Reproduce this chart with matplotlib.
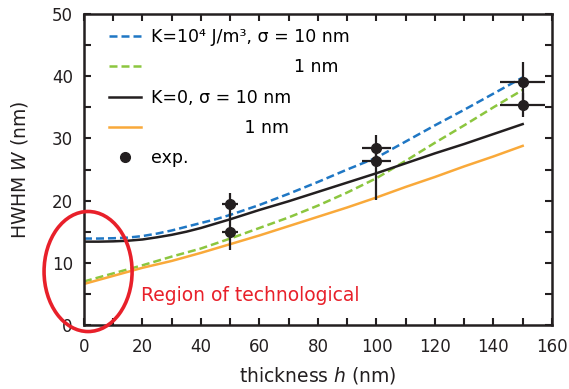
import matplotlib
matplotlib.use('Agg')
import matplotlib.pyplot as plt
from matplotlib.patches import Ellipse
from matplotlib.ticker import MultipleLocator

plt.rcParams['font.family'] = ['DejaVu Sans']
plt.rcParams['mathtext.fontset'] = 'custom'
plt.rcParams['mathtext.it'] = 'DejaVu Sans:italic'
plt.rcParams['mathtext.rm'] = 'DejaVu Sans'

# model curves, thickness h (nm) vs HWHM W (nm)
h = [0, 5, 10, 15, 20, 25, 30, 35, 40, 45, 50, 60, 70, 80, 90, 100, 110, 120, 130, 140, 150]
w_k4_s10 = [13.9, 13.9, 13.95, 14.05, 14.3, 14.7, 15.2, 15.8, 16.4, 17.0, 17.7,
            19.3, 21.1, 23.0, 25.0, 26.9, 29.5, 32.1, 34.6, 37.2, 39.8]
w_k4_s1 = [7.0, 7.65, 8.3, 8.95, 9.6, 10.3, 11.0, 11.65, 12.3, 13.1, 13.9,
           15.6, 17.3, 19.2, 21.3, 23.6, 26.4, 29.3, 32.1, 35.0, 37.8]
w_k0_s10 = [13.4, 13.4, 13.45, 13.55, 13.75, 14.1, 14.5, 15.0, 15.6, 16.3, 17.0,
            18.5, 19.9, 21.4, 22.9, 24.4, 26.0, 27.6, 29.1, 30.7, 32.3]
w_k0_s1 = [6.6, 7.25, 7.9, 8.55, 9.2, 9.75, 10.3, 10.95, 11.6, 12.3, 13.0,
           14.4, 15.9, 17.4, 18.9, 20.5, 22.2, 23.8, 25.5, 27.1, 28.8]

# experiment
exp_h = [50, 50, 100, 100, 150, 150]
exp_w = [19.4, 15.0, 28.4, 26.4, 39.1, 35.4]
exp_herr = [2.7, 2.7, 5.0, 5.0, 7.8, 7.8]
exp_werr_lo = [1.8, 3.0, 2.0, 6.3, 3.2, 1.9]
exp_werr_hi = [1.8, 3.0, 2.1, 2.0, 3.2, 1.9]

blue = '#1f77c4'
green = '#8cc63f'
black = '#231f20'
orange = '#f9a93a'
red = '#e8202a'

fig = plt.figure(figsize=(5.69, 3.89), dpi=100)
ax = fig.add_axes([0.1476, 0.1645, 0.8224, 0.7995])

ax.plot(h, w_k4_s10, color=blue, lw=1.8, dashes=(3.2, 1.6), label='K=10⁴ J/m³, σ = 10 nm')
ax.plot(h, w_k4_s1, color=green, lw=1.8, dashes=(3.2, 1.6),
        label='                          1 nm')
ax.plot(h, w_k0_s10, color=black, lw=1.8, label='K=0, σ = 10 nm')
ax.plot(h, w_k0_s1, color=orange, lw=1.8, label='                 1 nm')
ax.errorbar(exp_h, exp_w, xerr=exp_herr, yerr=[exp_werr_lo, exp_werr_hi],
            fmt='o', color=black, ms=7, elinewidth=1.6, capsize=0)
ax.plot([], [], 'o', color=black, ms=7, label='exp.')

ax.add_patch(Ellipse((1.4, 8.6), 30.1, 19.3, fill=False, ec=red, lw=2.6, clip_on=False, zorder=5))
ax.text(19.5, 4.8, 'Region of technological', color=red, fontsize=13.5, va='center', ha='left')

ax.set_xlim(0, 160)
ax.set_ylim(0, 50)
ax.xaxis.set_major_locator(MultipleLocator(20))
ax.xaxis.set_minor_locator(MultipleLocator(10))
ax.yaxis.set_major_locator(MultipleLocator(10))
ax.yaxis.set_minor_locator(MultipleLocator(5))
ax.tick_params(which='both', direction='in', top=True, right=True, width=1.5, length=5,
               labelsize=12, colors=black)
ax.tick_params(axis='x', pad=9)
ax.tick_params(axis='y', pad=8)
for s in ax.spines.values():
    s.set_linewidth(1.8)
    s.set_color(black)

ax.set_xlabel(r'thickness $h$ (nm)', fontsize=13.5, color=black)
ax.set_ylabel(r'HWHM $W$ (nm)', fontsize=13.5, color=black)
ax.xaxis.set_label_coords(0.5, -0.13)
ax.yaxis.set_label_coords(-0.115, 0.5)

ax.legend(loc='upper left', frameon=False, fontsize=12.5, handlelength=1.84, handletextpad=0.58,
          labelspacing=0.71, borderaxespad=0, bbox_to_anchor=(0.0385, 0.977))

plt.savefig('out.png', dpi=100)
